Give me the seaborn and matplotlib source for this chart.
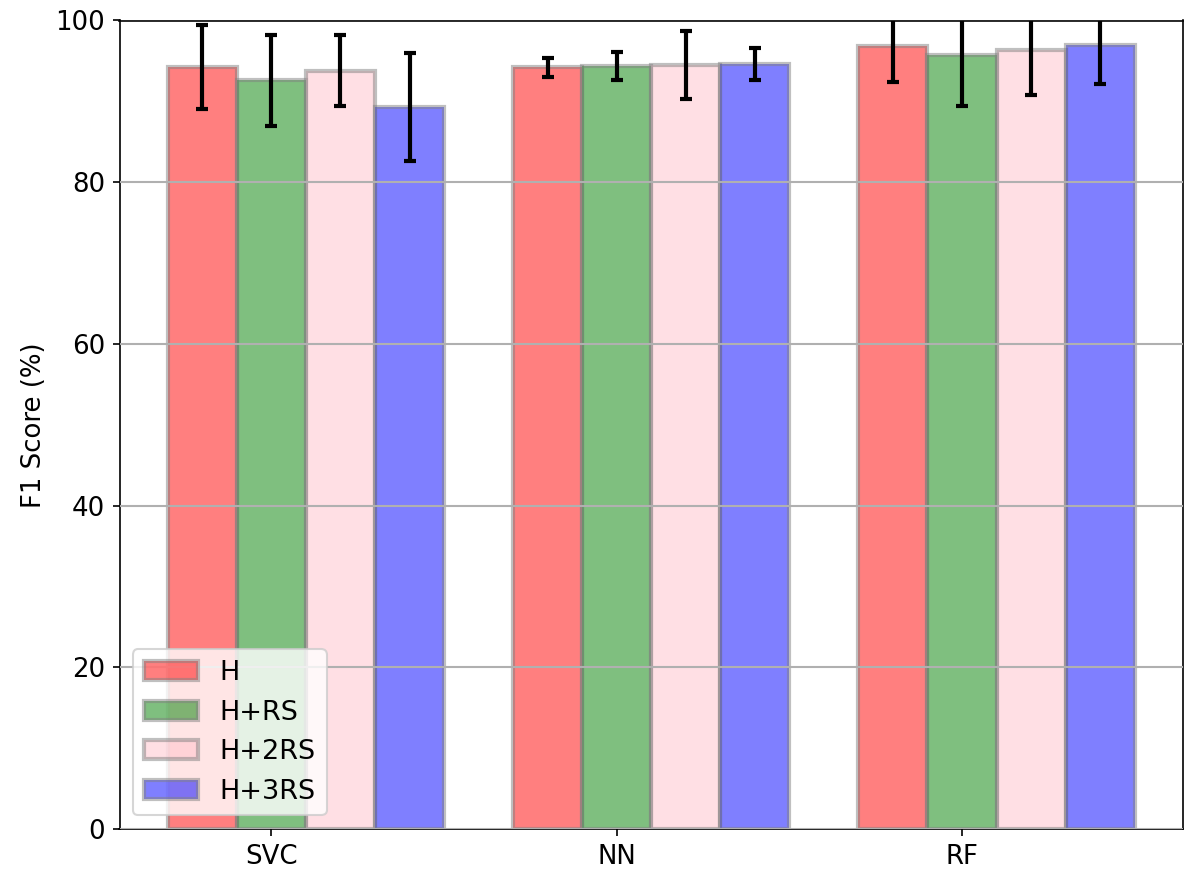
import numpy as np
import pandas as pd
import matplotlib
matplotlib.use("Agg")
import matplotlib.pyplot as plt
import seaborn as sns

models = ["SVC", "NN", "RF"]
feature_sets = ["H", "H+RS", "H+2RS", "H+3RS"]
colors = ["red", "green", "pink", "blue"]

# mean F1 (%) per model, one list per feature set
f1_h = [94.2, 94.2, 96.9]
f1_h_rs = [92.6, 94.4, 95.7]
f1_h_2rs = [93.8, 94.5, 96.4]
f1_h_3rs = [89.3, 94.6, 97.0]

# std of F1 (%)
err_h = [5.2, 1.2, 4.5]
err_h_rs = [5.6, 1.7, 6.3]
err_h_2rs = [4.4, 4.2, 5.6]
err_h_3rs = [6.7, 2.0, 4.8]

scores = [f1_h, f1_h_rs, f1_h_2rs, f1_h_3rs]
errors = [err_h, err_h_rs, err_h_2rs, err_h_3rs]

rows = []
for fs, vals, errs in zip(feature_sets, scores, errors):
    for m, v, e in zip(models, vals, errs):
        rows.append({"model": m, "features": fs, "f1": v, "err": e})
df = pd.DataFrame(rows)

plt.rcParams["font.size"] = 12.5

fig, ax = plt.subplots(figsize=(1186 / 150, 875 / 150), dpi=150)
fig.subplots_adjust(left=119.5 / 1186, right=1183 / 1186, top=1 - 20.5 / 875, bottom=1 - 829 / 875)

sns.barplot(data=df, x="model", y="f1", hue="features", order=models,
            hue_order=feature_sets, palette=dict(zip(feature_sets, colors)),
            errorbar=None, saturation=1, alpha=0.5, edgecolor="grey",
            linewidth=2, width=0.8, ax=ax)

# error bars on top of each bar
for cont, errs in zip(ax.containers, errors):
    xs = [b.get_x() + b.get_width() / 2 for b in cont]
    hs = [b.get_height() for b in cont]
    ax.errorbar(xs, hs, yerr=errs, fmt="none", ecolor="black",
                elinewidth=2, capsize=2.7, capthick=2, zorder=3)

# ticks sit under the second bar of each group
tick_pos = [b.get_x() + b.get_width() / 2 for b in ax.containers[1]]
ax.set_xticks(tick_pos, models)
ax.set_xlim(-0.54, 2.54)
ax.set_ylim(0, 100)
ax.set_xlabel("")
ax.set_ylabel("F1 Score (%)")
ax.yaxis.grid(True, color="#b0b0b0", linewidth=1)
ax.set_axisbelow(False)

handles, labels = ax.get_legend_handles_labels()
ax.legend(handles, labels, loc="lower left", fontsize=13)

fig.savefig("out.png", dpi=150)
